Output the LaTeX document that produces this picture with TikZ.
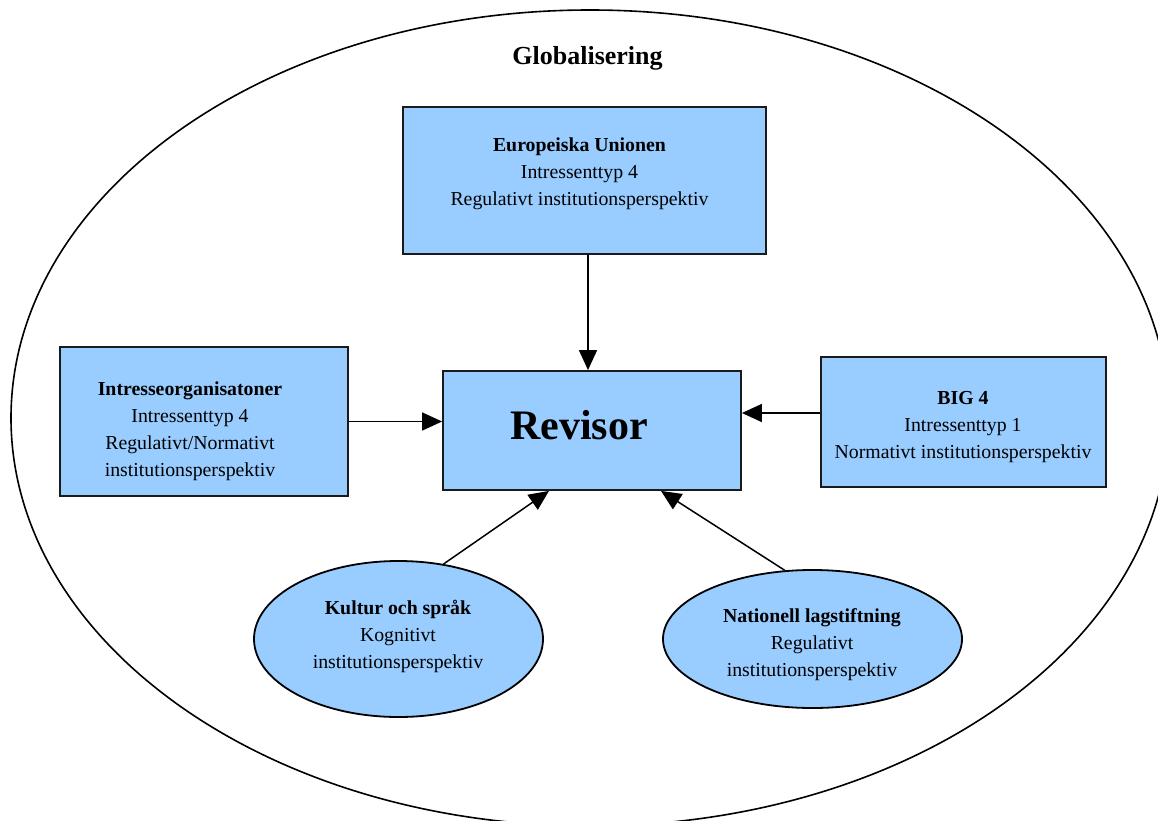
\documentclass[tikz,border=0pt]{standalone}
\usepackage{fontspec}
\setmainfont{Liberation Serif}
\usetikzlibrary{arrows.meta,shapes.geometric}
\definecolor{boxblue}{HTML}{99CCFF}
\definecolor{edgecol}{HTML}{1A1A1A}
\begin{document}
\begin{tikzpicture}[x=1pt,y=-1pt,
  box/.style={draw=edgecol, line width=1.8pt, fill=boxblue, rectangle, inner sep=0pt},
  oval/.style={draw=black, line width=1.8pt, fill=boxblue, ellipse, inner sep=0pt},
  txt/.style={align=center, font=\fontsize{19.8}{27}\selectfont, inner sep=0pt},
  arr/.style={-{Triangle[length=20pt,width=18pt]}, line width=1.5pt}]
\useasboundingbox (0,0) rectangle (1158,821);
\clip (0,0) rectangle (1158,821);
\draw[line width=1.6pt] (590,418) ellipse [x radius=579, y radius=408];
\node[font=\fontsize{26}{30}\selectfont\bfseries, inner sep=0pt] (glob) at (587.5,58) {Globalisering};
% boxes
\node[box, minimum width=363pt, minimum height=147pt] (eu) at (584.5,180.5) {};
\node[box, minimum width=288pt, minimum height=149pt] (intr) at (204,421.5) {};
\node[box, minimum width=285pt, minimum height=130pt] (big) at (963.5,422) {};
\node[box, minimum width=298pt, minimum height=119pt] (rev) at (592,430.5) {};
\node[oval, minimum width=289pt, minimum height=156pt] (kul) at (398.5,639) {};
\node[oval, minimum width=299pt, minimum height=138pt] (nat) at (812.5,639) {};
% texts
\node[txt] (eut) at (579.5,174) {\textbf{Europeiska Unionen}\\Intressenttyp 4\\Regulativt institutionsperspektiv};
\node[txt] (intrt) at (190,431) {\textbf{Intresseorganisatoner}\\Intressenttyp 4\\Regulativt/Normativt\\institutionsperspektiv};
\node[txt] (bigt) at (963,427) {\textbf{BIG 4}\\Intressenttyp 1\\Normativt institutionsperspektiv};
\node[font=\fontsize{42}{48}\selectfont\bfseries, inner sep=0pt] (revt) at (579,425) {Revisor};
\node[txt] (kult) at (398,636) {\textbf{Kultur och språk}\\Kognitivt\\institutionsperspektiv};
\node[txt] (natt) at (812,645) {\textbf{Nationell lagstiftning}\\Regulativt\\institutionsperspektiv};
% connectors
\draw[arr] ([xshift=3.5pt]eu.south) -- ([xshift=-4pt]rev.north);
\draw[arr] (intr.east) -- (intr.east -| rev.west);
\draw[arr] ([yshift=9pt]big.west) -- ([yshift=9pt]big.west -| rev.east);
\draw[arr] (kul.59) -- ([xshift=-43pt]rev.south);
\draw[arr] (nat.112) -- ([xshift=69pt]rev.south);
\end{tikzpicture}
\end{document}
